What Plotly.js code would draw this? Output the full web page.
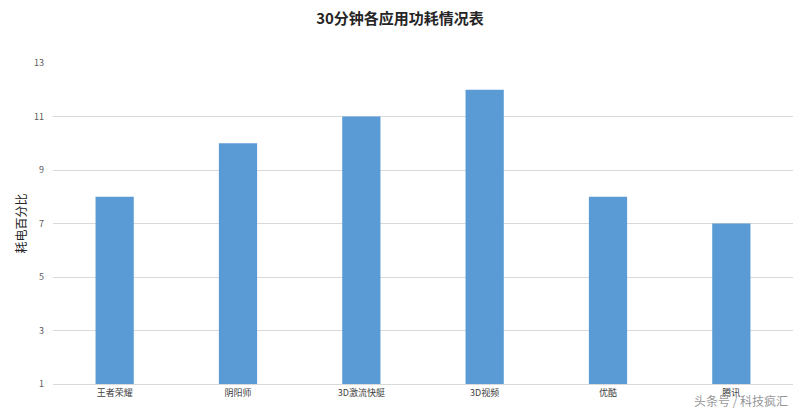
<!DOCTYPE html>
<html><head><meta charset="utf-8">
<script src="https://cdn.plot.ly/plotly-3.0.1.min.js"></script>
<style>html,body{margin:0;padding:0;background:#fff}#chart{width:800px;height:411px}</style>
</head><body><div id="chart"></div>
<script>
const categories = ["王者荣耀", "阴阳师", "3D激流快艇", "3D视频", "优酷", "腾讯"];
const values = [8, 10, 11, 12, 8, 7];
const yTicks = [1, 3, 5, 7, 9, 11, 13];
const font = '"Noto Sans CJK SC", "Microsoft YaHei", sans-serif';

Plotly.newPlot('chart', [{
  type: 'bar', x: categories, y: values,
  marker: {color: '#5B9BD5'},
  hoverinfo: 'x+y'
}], {
  width: 800, height: 411,
  margin: {l: 53, r: 7, t: 63, b: 27},
  paper_bgcolor: '#fff', plot_bgcolor: '#fff',
  bargap: 0.69,
  title: {text: '<b>30分钟各应用功耗情况表</b>', x: 0.5, xanchor: 'center', y: 0.955, yanchor: 'middle',
          font: {family: font, size: 15, color: '#262626'}},
  xaxis: {type: 'category', showgrid: false, showline: true, linecolor: '#d9d9d9', linewidth: 1,
          ticks: '', tickfont: {family: font, size: 9, color: '#404040'}, fixedrange: true},
  yaxis: {range: [1, 13], tickvals: yTicks, ticktext: yTicks.map(String), showgrid: true,
          gridcolor: '#d9d9d9', zeroline: false, showline: false, ticks: '',
          tickfont: {family: font, size: 9, color: '#595959'}, ticklabelstandoff: 8,
          title: {text: '耗电百分比', standoff: 4, font: {family: font, size: 12, color: '#262626'}}},
  annotations: [{
    text: '头条号 / 科技疯汇', xref: 'paper', yref: 'paper', x: 0.995, y: -0.05, xanchor: 'right', yanchor: 'middle',
    borderpad: 0, showarrow: false, font: {family: font, size: 12, color: 'rgba(120,120,120,0.8)'}
  }]
}, {displayModeBar: false});
</script></body></html>
